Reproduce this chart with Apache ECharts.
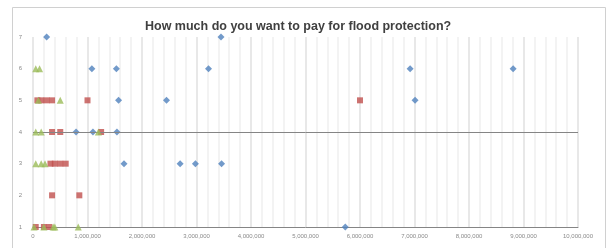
<!DOCTYPE html>
<html>
<head>
<meta charset="utf-8">
<script src="https://cdn.jsdelivr.net/npm/echarts@6/dist/echarts.min.js"></script>
<style>
  html, body { margin: 0; padding: 0; background: #fff; }
  #chart { width: 611px; height: 248px; }
</style>
</head>
<body>
<div id="chart"></div>
<script>
// 数据点 [金额, 档位]
var blueData = [
    [250000, 7], [3450000, 7],
    [1080000, 6], [1530000, 6], [3220000, 6], [6920000, 6], [8810000, 6],
    [1570000, 5], [2450000, 5], [7010000, 5],
    [790000, 4], [1100000, 4], [1540000, 4],
    [1670000, 3], [2700000, 3], [2980000, 3], [3460000, 3],
    [5730000, 1]
];
var redData = [
    [80000, 5], [150000, 5], [250000, 5], [350000, 5], [1000000, 5], [6000000, 5],
    [350000, 4], [500000, 4], [1250000, 4],
    [320000, 3], [400000, 3], [500000, 3], [600000, 3],
    [350000, 2], [850000, 2],
    [50000, 1], [200000, 1], [300000, 1]
];
var greenData = [
    [50000, 6], [120000, 6],
    [100000, 5], [500000, 5],
    [50000, 4], [150000, 4], [1200000, 4],
    [50000, 3], [150000, 3], [220000, 3],
    [20000, 1], [200000, 1], [370000, 1], [400000, 1], [830000, 1]
];
var xMin = 0, xMax = 10000000, xStep = 1000000;
var yMin = 1, yMax = 7;
var refLineY = 4;
var titleText = 'How much do you want to pay for flood protection?';

var chart = echarts.init(document.getElementById('chart'));

var option = {
    animation: false,
    backgroundColor: '#fff',
    title: {
        text: titleText,
        left: 140,
        top: 15,
        textStyle: {
            fontFamily: 'Liberation Sans',
            fontSize: 12.5,
            fontWeight: 'bold',
            color: '#404040'
        }
    },
    graphic: [{
        type: 'rect',
        shape: { x: 12.5, y: 7.5, width: 593, height: 260 },
        style: { fill: 'none', stroke: '#d0d0d0', lineWidth: 1 },
        silent: true
    }],
    grid: { left: 33, right: 33, top: 37, bottom: 21 },
    xAxis: {
        type: 'value',
        min: xMin,
        max: xMax,
        interval: xStep,
        axisLine: { show: true, onZero: false, lineStyle: { color: '#858585' } },
        axisTick: { show: false },
        minorTick: { show: false, splitNumber: 5 },
        splitLine: { show: true, lineStyle: { color: '#e8e8e8', width: 2 } },
        minorSplitLine: { show: true, lineStyle: { color: '#f3f3f3', width: 2 } },
        axisLabel: {
            fontSize: 6,
            color: '#8a8a8a',
            margin: 6,
            formatter: function (v) { return v.toLocaleString('en-US'); }
        }
    },
    yAxis: {
        type: 'value',
        min: yMin,
        max: yMax,
        interval: 1,
        axisLine: { show: false },
        axisTick: { show: false },
        splitLine: { show: false },
        axisLabel: { fontSize: 6, color: '#8a8a8a', margin: 11 }
    },
    series: [
        {
            name: 'Series1',
            type: 'scatter',
            symbol: 'diamond',
            symbolSize: 7,
            itemStyle: { color: '#4F81BD' },
            data: blueData,
            markLine: {
                silent: true,
                symbol: 'none',
                label: { show: false },
                lineStyle: { color: '#858585', type: 'solid', width: 1 },
                data: [{ yAxis: refLineY }]
            },
            z: 3
        },
        {
            name: 'Series2',
            type: 'scatter',
            symbol: 'rect',
            symbolSize: 6,
            itemStyle: { color: '#C0504D' },
            data: redData,
            z: 4
        },
        {
            name: 'Series3',
            type: 'scatter',
            symbol: 'triangle',
            symbolSize: 7,
            itemStyle: { color: '#9BBB59' },
            data: greenData,
            z: 5
        }
    ]
};

chart.setOption(option);
</script>
</body>
</html>
